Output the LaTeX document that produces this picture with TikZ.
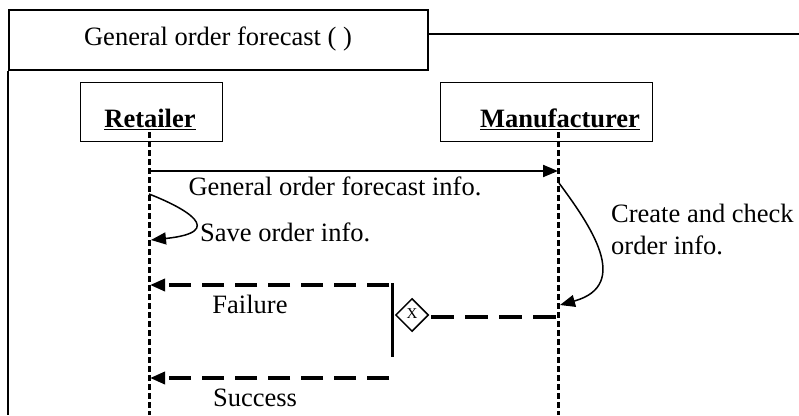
\documentclass[tikz,border=0pt]{standalone}
\usepackage{fontspec}
\setmainfont{Liberation Serif}
\usetikzlibrary{arrows.meta,shapes.geometric}
\begin{document}
\begin{tikzpicture}[x=1pt,y=-1pt,
  lbl/.style={font=\fontsize{26.5}{32}\selectfont, inner sep=0pt},
  lifebox/.style={draw, line width=1pt, minimum height=59pt, inner sep=0pt},
  lifeline/.style={line width=3pt, dash pattern=on 6pt off 3pt},
  msg/.style={line width=2pt, -{Triangle[length=15pt,width=12pt]}},
  reply/.style={line width=3.5pt, dash pattern=on 22pt off 11pt, -{Triangle[length=15pt,width=12pt]}},
  selfmsg/.style={line width=1.5pt, -{Triangle[length=15pt,width=12pt]}}]
\useasboundingbox (0,0) rectangle (799,415);
% frame
\node[draw, line width=2pt, minimum width=419pt, minimum height=60pt, inner sep=0pt, anchor=north west] (title) at (8,9) {};
\node[lbl] (titletxt) at (218,39) {General order forecast ( )};
\coordinate (framestart) at (427,34);
\coordinate (frameend) at (799,34);
\draw[line width=1.5pt] (framestart) -- (frameend);
\coordinate (fbl) at (8,415);
\draw[line width=2pt] (title.south west) -- (fbl);
% lifeline boxes
\node[lifebox, minimum width=142pt, anchor=north west] (ret) at (80,82) {};
\node[lifebox, minimum width=212pt, anchor=north west] (man) at (440,82) {};
\node[lbl, font=\fontsize{26.5}{32}\selectfont\bfseries] (rettxt) at (150,119) {\underline{Retailer}};
\node[lbl, font=\fontsize{26.5}{32}\selectfont\bfseries] (mantxt) at (560,119) {\underline{Manufacturer}};
\coordinate (rtop) at (149,132);
\coordinate (rbot) at (149,415);
\coordinate (mtop) at (558,132);
\coordinate (mbot) at (558,415);
\draw[lifeline] (rtop) -- (rbot);
\draw[lifeline] (mtop) -- (mbot);
% message
\coordinate (m1s) at (149,171);
\coordinate (m1e) at (558,171);
\draw[msg] (m1s) -- (m1e);
\node[lbl] (m1txt) at (335,186) {General order forecast info.};
% self message retailer
\coordinate (s1s) at (149,194);
\coordinate (s1e) at (151,240);
\draw[selfmsg] (s1s) .. controls (185,208) and (228,232) .. (s1e);
\node[lbl, anchor=west] (s1txt) at (200,232) {Save order info.};
% self message manufacturer
\coordinate (s2s) at (559,183);
\coordinate (s2e) at (560,305);
\draw[selfmsg] (s2s) .. controls (590,225) and (632,285) .. (s2e);
\node[lbl, anchor=west, align=left] (s2txt) at (611,229) {Create and check\\order info.};
% decision
\node[draw, diamond, line width=1.5pt, minimum width=33pt, minimum height=33pt, inner sep=0pt] (dec) at (412,315) {};
\node[font=\fontsize{15}{16}\selectfont, inner sep=0pt] (dectxt) at (412,314) {X};
\coordinate (dmsg) at (558,317);
\coordinate (dstart) at (431,317);
\draw[line width=3.5pt, dash pattern=on 23pt off 11pt] (dstart) -- (dmsg);
\coordinate (bart) at (392,283);
\coordinate (barb) at (392,357);
\draw[line width=3pt] (bart) -- (barb);
% replies
\coordinate (fs) at (389,285);
\coordinate (fe) at (150,285);
\draw[reply] (fs) -- (fe);
\node[lbl] (ftxt) at (250,304) {Failure};
\coordinate (ss) at (389,378);
\coordinate (se) at (150,378);
\draw[reply] (ss) -- (se);
\node[lbl] (stxt) at (255,398) {Success};
\end{tikzpicture}
\end{document}
